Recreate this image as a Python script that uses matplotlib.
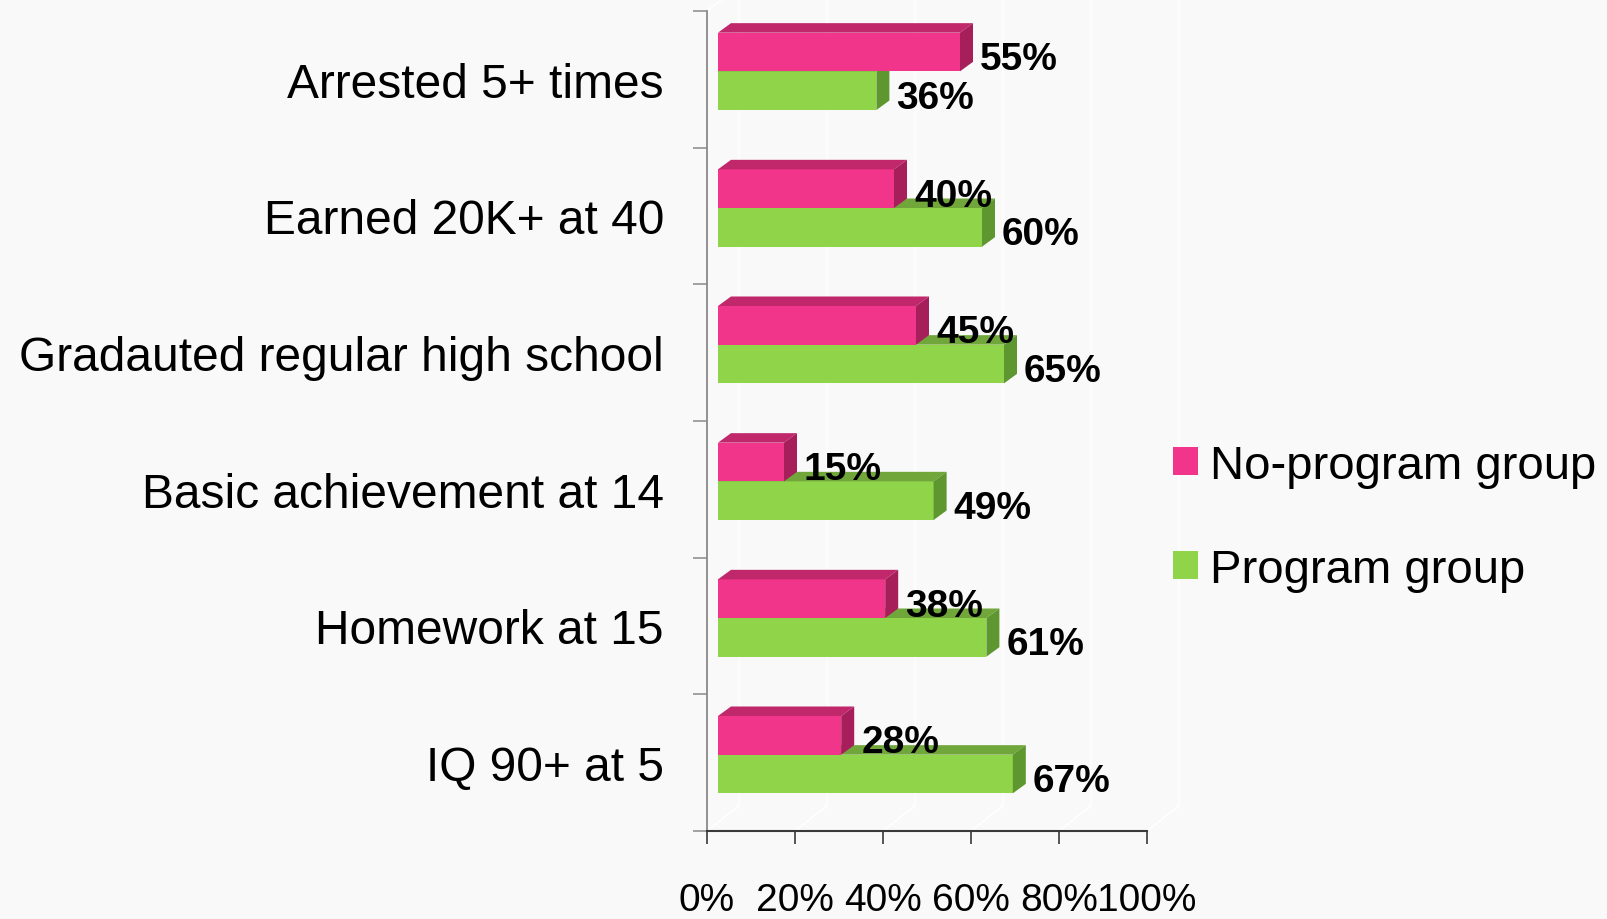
import matplotlib.pyplot as plt
import matplotlib.transforms as mtransforms
from matplotlib.patches import Polygon, Patch
from matplotlib.lines import Line2D
import numpy as np

# chart data
categories = ['Arrested 5+ times', 'Earned 20K+ at 40', 'Gradauted regular high school',
              'Basic achievement at 14', 'Homework at 15', 'IQ 90+ at 5']
no_program = [55, 40, 45, 15, 38, 28]
program = [36, 60, 65, 49, 61, 67]
series_names = ['No-program group', 'Program group']
x_ticks = [0, 20, 40, 60, 80, 100]
x_tick_labels = ['0%', '20%', '40%', '60%', '80%', '100%']

plt.rcParams['font.family'] = ['Liberation Sans', 'DejaVu Sans']

bg = '#f9f9f9'
pink = ('#f0358a', '#c0286b', '#a61f5b')    # front, top, side
green = ('#90d44a', '#70a63a', '#5e962f')

fig = plt.figure(figsize=(16.08, 9.2), dpi=100, facecolor=bg)
ax = fig.add_axes([707/1608, 88/920, 440/1608, 820/920])
ax.set_facecolor('none')
ax.set_xlim(0, 100)
ax.set_ylim(5.5, -0.5)


def shift(dx, dy):
    # offset in pixels (dpi 100) for the fake 3d look
    return ax.transData + mtransforms.ScaledTranslation(dx/100, dy/100, fig.dpi_scale_trans)


front = shift(11, 8)
back = shift(24, 17.5)
wall = shift(32, 25)
ident = mtransforms.IdentityTransform()

# white gridlines on back wall and floor
for g in x_ticks:
    ax.plot([g, g], [5.5, -0.7], transform=wall, color='white', lw=1.2, clip_on=False, zorder=0)
    p0 = ax.transData.transform((g, 5.5))
    p1 = wall.transform((g, 5.5))
    fig.add_artist(Line2D([p0[0], p1[0]], [p0[1], p1[1]], transform=ident, color='white', lw=1.2, zorder=0))
p0 = ax.transData.transform((0, -0.5))
p1 = wall.transform((0, -0.5))
fig.add_artist(Line2D([p0[0], p1[0]], [p0[1], p1[1]], transform=ident, color='white', lw=1.2, zorder=0))

h = 0.283


def bar3d(v, y0, y1, cols):
    f = [front.transform(p) for p in [(0, y0), (v, y0), (v, y1), (0, y1)]]
    b = [back.transform(p) for p in [(0, y0), (v, y0), (v, y1), (0, y1)]]
    ax.add_patch(Polygon(f, closed=True, transform=ident, facecolor=cols[0], edgecolor='none', clip_on=False))
    ax.add_patch(Polygon([f[0], f[1], b[1], b[0]], closed=True, transform=ident,
                         facecolor=cols[1], edgecolor='none', clip_on=False))
    ax.add_patch(Polygon([f[1], b[1], b[2], f[2]], closed=True, transform=ident,
                         facecolor=cols[2], edgecolor='none', clip_on=False))


for i in range(len(categories)):
    bar3d(program[i], i, i + h, green)
    bar3d(no_program[i], i - h, i, pink)

lab = shift(31, 1)
for i in range(len(categories)):
    ax.text(no_program[i], i - h/2, '{}%'.format(no_program[i]), transform=lab,
            ha='left', va='center', fontsize=28, fontweight='bold', zorder=5)
    ax.text(program[i], i + h/2, '{}%'.format(program[i]), transform=lab,
            ha='left', va='center', fontsize=28, fontweight='bold', zorder=5)

# axes styling
for s in ['top', 'right']:
    ax.spines[s].set_visible(False)
ax.spines['left'].set_color('#8a8a8a')
ax.spines['left'].set_linewidth(1.3)
ax.spines['bottom'].set_color('#3a3a3a')
ax.spines['bottom'].set_linewidth(1.5)

ax.set_yticks(range(len(categories)))
ax.set_yticklabels(categories, fontsize=34.5)
ax.tick_params(axis='y', which='major', length=0, pad=31)
ax.set_yticks(np.arange(-0.5, len(categories), 1), minor=True)
ax.tick_params(axis='y', which='minor', length=10, width=1.1, color='#8a8a8a')

ax.set_xticks(x_ticks)
ax.set_xticklabels(x_tick_labels, fontsize=28)
ax.tick_params(axis='x', length=9.4, width=1.2, color='#3a3a3a', pad=27)

handles = [Patch(facecolor=pink[0]), Patch(facecolor=green[0])]
fig.legend(handles, series_names, loc='center left', bbox_to_anchor=(1173/1608, 0.436),
           frameon=False, fontsize=34, handlelength=0.53, handleheight=0.53,
           handletextpad=0.25, labelspacing=1.28, borderpad=0, borderaxespad=0)

fig.savefig('out.png', dpi=100, facecolor=bg)
